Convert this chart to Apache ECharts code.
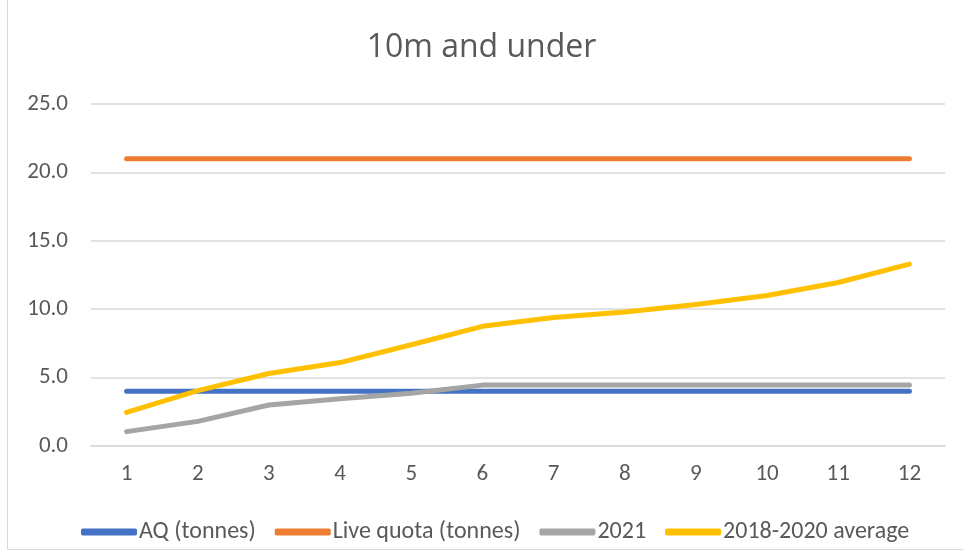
<!DOCTYPE html>
<html>
<head>
<meta charset="utf-8">
<script src="https://cdn.jsdelivr.net/npm/echarts@6/dist/echarts.min.js"></script>
<style>
  html, body { margin: 0; padding: 0; background: #fff; }
  #frame { position: absolute; left: 7px; top: -2px; width: 970px; height: 552px; border: 1px solid #d9d9d9; box-sizing: border-box; }
  #chart { position: absolute; left: 0; top: 0; width: 963px; height: 553px; }
</style>
</head>
<body>
<div id="frame"></div>
<div id="chart"></div>
<script>
var months = ['1', '2', '3', '4', '5', '6', '7', '8', '9', '10', '11', '12'];
var aqTonnes = [4.0, 4.0, 4.0, 4.0, 4.0, 4.0, 4.0, 4.0, 4.0, 4.0, 4.0, 4.0];
var liveQuota = [21.0, 21.0, 21.0, 21.0, 21.0, 21.0, 21.0, 21.0, 21.0, 21.0, 21.0, 21.0];
var y2021 = [1.05, 1.8, 3.0, 3.45, 3.85, 4.45, 4.45, 4.45, 4.45, 4.45, 4.45, 4.45];
var avg2018to2020 = [2.45, 4.05, 5.3, 6.1, 7.4, 8.75, 9.4, 9.8, 10.35, 11.0, 11.95, 13.3];
var yTicks = [0, 5, 10, 15, 20, 25];

var txt = '#595959';
var font = "Carlito, 'Liberation Sans Narrow', 'Liberation Sans', sans-serif";

function lineSeries(name, data, color) {
    return {
        name: name,
        type: 'line',
        data: data,
        symbol: 'none',
        smooth: false,
        lineStyle: { color: color, width: 5, cap: 'round', join: 'round' },
        itemStyle: { color: color }
    };
}

var myChart = echarts.init(document.getElementById('chart'));
var option = {
    animation: false,
    title: {
        text: '10m and under',
        left: 'center',
        top: 27,
        textStyle: { color: txt, fontSize: 32, fontWeight: 'normal', fontFamily: "'Open Sans', 'Noto Sans', sans-serif" }
    },
    legend: {
        top: 515,
        left: 76,
        itemWidth: 56,
        itemHeight: 7,
        itemGap: 19,
        icon: 'roundRect',
        textStyle: { color: txt, fontSize: 24, fontFamily: font, padding: [0, 0, 0, -3] },
        data: ['AQ (tonnes)', 'Live quota (tonnes)', '2021', '2018-2020 average']
    },
    grid: { left: 91, right: 18, top: 104, bottom: 107 },
    xAxis: {
        type: 'category',
        data: months,
        boundaryGap: true,
        axisLine: { show: true, lineStyle: { color: '#d9d9d9', width: 1.5 } },
        axisTick: { show: false },
        axisLabel: { color: txt, fontSize: 23, fontFamily: font, margin: 17 }
    },
    yAxis: {
        type: 'value',
        min: yTicks[0],
        max: yTicks[yTicks.length - 1],
        interval: 5,
        axisLine: { show: false },
        axisTick: { show: false },
        splitLine: { lineStyle: { color: '#d9d9d9', width: 1.5 } },
        axisLabel: {
            color: txt, fontSize: 23, fontFamily: font, margin: 23,
            formatter: function (v) { return v.toFixed(1); }
        }
    },
    series: [
        lineSeries('AQ (tonnes)', aqTonnes, '#4472C4'),
        lineSeries('Live quota (tonnes)', liveQuota, '#ED7D31'),
        lineSeries('2021', y2021, '#A5A5A5'),
        lineSeries('2018-2020 average', avg2018to2020, '#FFC000')
    ]
};
myChart.setOption(option);
</script>
</body>
</html>
